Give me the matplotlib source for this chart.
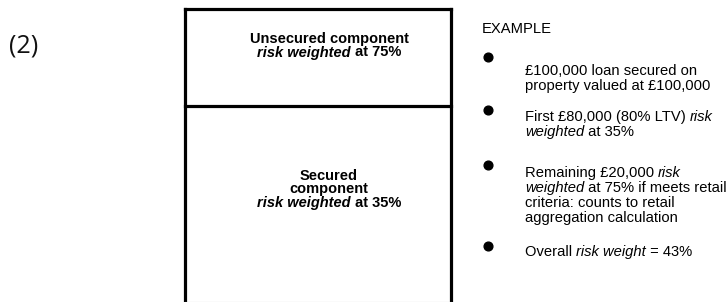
import matplotlib
matplotlib.use('Agg')
import matplotlib.pyplot as plt

# ---- content ----
panel_label = "(2)"
unsecured_lines = [
    [("Unsecured component", "normal", "bold")],
    [("risk weighted", "italic", "bold"), (" at 75%", "normal", "bold")],
]
secured_lines = [
    [("Secured", "normal", "bold")],
    [("component", "normal", "bold")],
    [("risk weighted", "italic", "bold"), (" at 35%", "normal", "bold")],
]
example_title = "EXAMPLE"
bullets = [
    [
        [("£100,000 loan secured on", "normal", "normal")],
        [("property valued at £100,000", "normal", "normal")],
    ],
    [
        [("First £80,000 (80% LTV) ", "normal", "normal"), ("risk", "italic", "normal")],
        [("weighted", "italic", "normal"), (" at 35%", "normal", "normal")],
    ],
    [
        [("Remaining £20,000 ", "normal", "normal"), ("risk", "italic", "normal")],
        [("weighted", "italic", "normal"), (" at 75% if meets retail", "normal", "normal")],
        [("criteria: counts to retail", "normal", "normal")],
        [("aggregation calculation", "normal", "normal")],
    ],
    [
        [("Overall ", "normal", "normal"), ("risk weight", "italic", "normal"), (" = 43%", "normal", "normal")],
    ],
]

# ---- layout ----
W, H = 727, 302
fig = plt.figure(figsize=(W / 100, H / 100), dpi=100)
ax = fig.add_axes([0, 0, 1, 1])
ax.set_xlim(0, W)
ax.set_ylim(H, 0)
ax.axis('off')
renderer = fig.canvas.get_renderer()

FONT = "Liberation Sans"

def draw_line(x, y, segs, align="left", fs=10.3):
    widths = []
    for s, style, weight in segs:
        t = ax.text(0, 0, s, fontsize=fs, family=FONT, style=style, weight=weight)
        widths.append(t.get_window_extent(renderer).width)
        t.remove()
    total = sum(widths)
    cx = x - total / 2 if align == "center" else x
    for (s, style, weight), w in zip(segs, widths):
        ax.text(cx, y, s, fontsize=fs, family=FONT, style=style, weight=weight,
                va="baseline", ha="left", color="black")
        cx += w

# panel label
ax.text(9, 46, panel_label, fontsize=18, family="Open Sans", va="center", ha="left", color="#111111")

# box
L, R, T, M, B = 185, 451, 8.5, 105.5, 303
lw = 2.3
ax.plot([L, L], [T, B], color="black", lw=lw, solid_capstyle="projecting")
ax.plot([R, R], [T, B], color="black", lw=lw, solid_capstyle="projecting")
ax.plot([L, R], [T, T], color="black", lw=lw, solid_capstyle="projecting")
ax.plot([L, R], [M, M], color="black", lw=lw, solid_capstyle="projecting")
ax.plot([L, R], [301.5, 301.5], color="#b0b0b0", lw=0.8)

box_cx = 329
for segs, y in zip(unsecured_lines, [43, 56.5]):
    draw_line(box_cx, y, segs, align="center", fs=10.5)
for segs, y in zip(secured_lines, [180, 193.5, 207]):
    draw_line(box_cx, y, segs, align="center", fs=10.5)

# example
ax.text(482, 33, example_title, fontsize=10.6, family=FONT, va="baseline", ha="left")
bullet_y = [57, 110, 165, 246]
first_baseline = [75, 121, 177, 256]
for items, by, fb in zip(bullets, bullet_y, first_baseline):
    ax.plot([488], [by], marker="o", ms=6.3, color="black", mec="black")
    for i, segs in enumerate(items):
        draw_line(525, fb + 15 * i, segs, fs=10.6)

fig.savefig("out.png", dpi=100, facecolor="white")
